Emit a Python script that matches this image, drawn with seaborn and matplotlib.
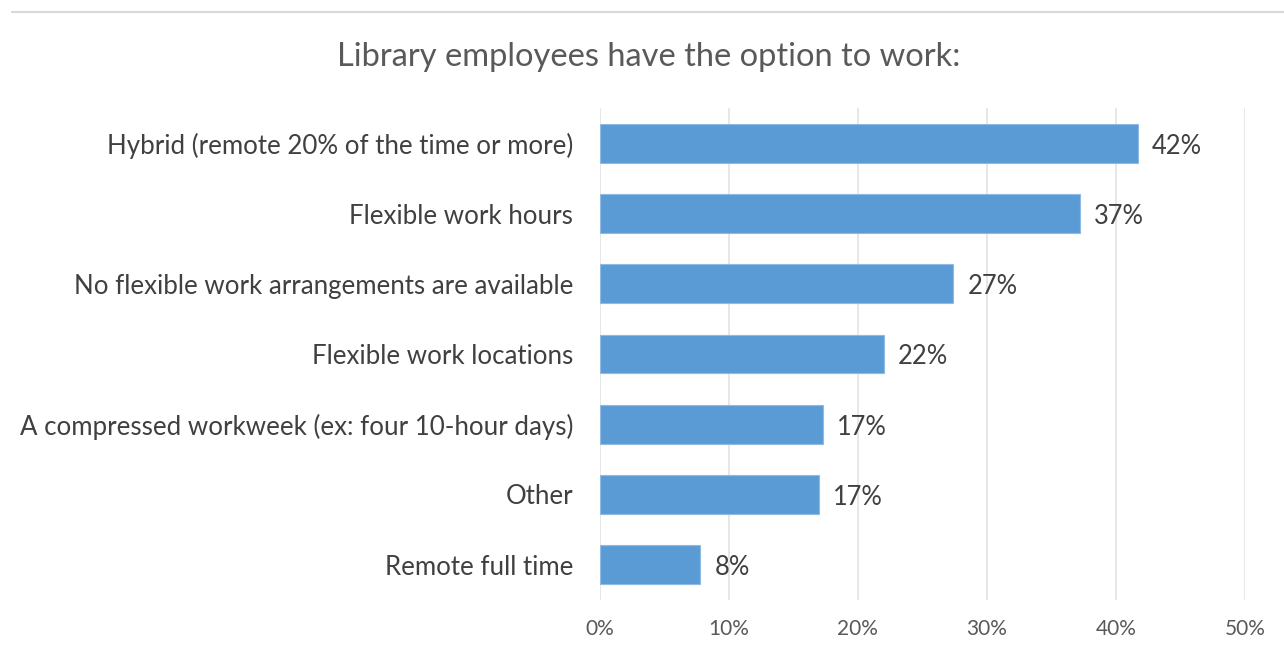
import matplotlib
matplotlib.use("Agg")
import matplotlib.pyplot as plt
import matplotlib.lines as mlines
import seaborn as sns
import pandas as pd

categories = [
    "Hybrid (remote 20% of the time or more)",
    "Flexible work hours",
    "No flexible work arrangements are available",
    "Flexible work locations",
    "A compressed workweek (ex: four 10-hour days)",
    "Other",
    "Remote full time",
]
values = [41.7, 37.2, 27.4, 22.0, 17.3, 17.0, 7.8]
value_labels = ["42%", "37%", "27%", "22%", "17%", "17%", "8%"]
x_ticks = [0, 10, 20, 30, 40, 50]
x_tick_labels = ["0%", "10%", "20%", "30%", "40%", "50%"]
title = "Library employees have the option to work:"

sns.set_theme(style="white")
plt.rcParams["font.family"] = ["Lato", "DejaVu Sans"]

df = pd.DataFrame({"category": categories, "value": values})

fig = plt.figure(figsize=(12.84, 6.52), dpi=100)
ax = fig.add_axes([0.467, 0.080, 0.5027, 0.754])

sns.barplot(data=df, y="category", x="value", orient="h", color="#5B9BD5",
            saturation=1, width=0.55, edgecolor="#8fbbe3", linewidth=0.8, ax=ax)

ax.set_xlim(0, 50)
ax.set_ylim(len(categories) - 0.5, -0.5)
ax.set_xticks(x_ticks)
ax.set_xticklabels(x_tick_labels, fontsize=15, color="#595959")
ax.tick_params(axis="x", length=0, pad=14)
ax.tick_params(axis="y", length=0, pad=19, labelsize=18.6, labelcolor="#404040")
ax.set_xlabel("")
ax.set_ylabel("")
ax.grid(axis="x", color="#e3e3e3", linewidth=1.2)
ax.grid(axis="y", visible=False)
ax.set_axisbelow(True)
for s in ax.spines.values():
    s.set_visible(False)

for i, (v, lab) in enumerate(zip(values, value_labels)):
    ax.text(v + 1.1, i + 0.04, lab, va="center", ha="left", fontsize=18.4, color="#404040")

fig.text(0.505, 0.913, title, ha="center", va="center", fontsize=23.5, color="#595959")
fig.add_artist(mlines.Line2D([12 / 1284, 1.0], [1 - 12 / 652, 1 - 12 / 652],
                             color="#d9d9d9", linewidth=1.5, transform=fig.transFigure))

fig.savefig("out.png", dpi=100, facecolor="white")
